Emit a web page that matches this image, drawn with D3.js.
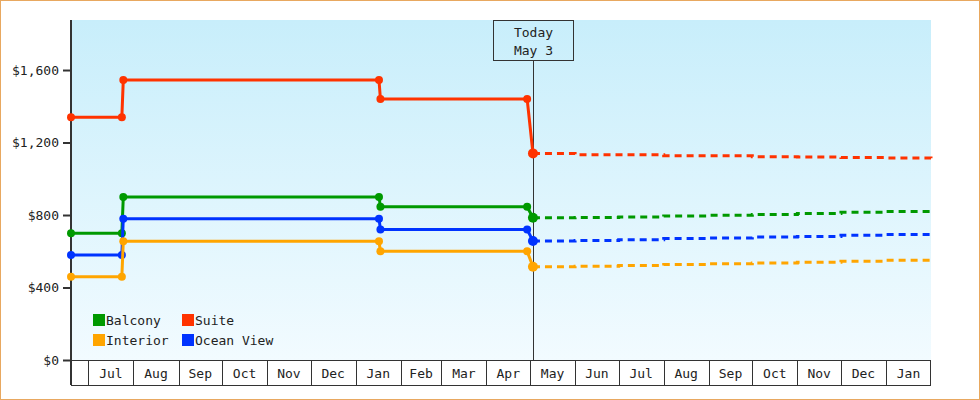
<!DOCTYPE html>
<html><head><meta charset="utf-8">
<script src="https://cdn.jsdelivr.net/npm/d3@7"></script>
<style>body{margin:0;background:#fff}svg{display:block}text{font-family:"DejaVu Sans Mono",monospace;font-size:13px;fill:#222}</style>
</head><body><svg id="c" width="980" height="400"></svg>
<script>
const seriesNames = ["Balcony","Suite","Interior","Ocean View"];
const colors = ["#009900","#ff3300","#ffa500","#0033ff"];
const histDates = ["2022-06-19","2022-07-24","2022-07-25","2023-01-17","2023-01-18","2023-04-29","2023-05-03"];
const balconyHist = [700,700,900,900,845,845,785];
const suiteHist = [1340,1340,1545,1545,1440,1440,1140];
const interiorHist = [460,460,655,655,600,600,515];
const oceanHist = [580,580,780,780,720,720,657];
const fcDates = ["2023-05-03","2023-06-01","2023-07-01","2023-08-01","2023-09-01","2023-10-01","2023-11-01","2023-12-01","2024-01-01","2024-02-01"];
const balconyFc = [785,786,789,795,798,803,808,815,820,822];
const suiteFc = [1140,1132,1132,1127,1127,1122,1120,1117,1115,1113];
const interiorFc = [515,517,521,527,531,535,539,545,550,552];
const oceanFc = [657,660,664,670,673,678,682,688,692,693];
const yTicks = [0,400,800,1200,1600];
const todayLabel = ["Today","May 3"];
const todayDate = "2023-05-03";

const hist=[balconyHist,suiteHist,interiorHist,oceanHist];
const fc=[balconyFc,suiteFc,interiorFc,oceanFc];
const P=d3.timeParse("%Y-%m-%d");
const svg=d3.select("#c");
const L=71,R=931,T=20,B=360;
const x=d3.scaleTime().domain([P("2022-06-19"),P("2024-02-01")]).range([L,R]);
const y=d3.scaleLinear().domain([0,1876]).range([B,T]);
const defs=svg.append("defs");
const g=defs.append("linearGradient").attr("id","bg").attr("x1",0).attr("y1",0).attr("x2",0).attr("y2",1);
g.append("stop").attr("offset","0").attr("stop-color","#c8eefb");
g.append("stop").attr("offset","1").attr("stop-color","#f2fbff");
svg.append("rect").attr("x",0.5).attr("y",0.5).attr("width",979).attr("height",399).attr("fill","#fff").attr("stroke","#e8a860");
svg.append("rect").attr("x",L).attr("y",T).attr("width",R-L).attr("height",B-T).attr("fill","url(#bg)");
// y axis
const ya=svg.append("g").attr("transform",`translate(${L},0)`).call(d3.axisLeft(y).tickValues(yTicks).tickSize(8).tickFormat(d=>"$"+d3.format(",")(d)));
ya.select(".domain").remove();
ya.selectAll("line").attr("stroke","#333").attr("stroke-width",2);
ya.selectAll("text").attr("font-family","DejaVu Sans Mono").attr("font-size",13).attr("fill","#333").attr("dx",-1);
svg.append("line").attr("x1",L).attr("x2",L).attr("y1",T).attr("y2",B+25).attr("stroke","#333").attr("stroke-width",2);
// x axis month boxes
const months=d3.timeMonth.range(P("2022-07-01"),P("2024-02-01"));
const xa=svg.append("g");
xa.append("line").attr("x1",L).attr("x2",R).attr("y1",B+0.5).attr("y2",B+0.5).attr("stroke","#333");
xa.append("line").attr("x1",L).attr("x2",R).attr("y1",B+25.5).attr("y2",B+25.5).attr("stroke","#333");
xa.append("line").attr("x1",R-0.5).attr("x2",R-0.5).attr("y1",B).attr("y2",B+25).attr("stroke","#333");
months.forEach(m=>{
  const x0=Math.round(x(m))+0.5;
  xa.append("line").attr("x1",x0).attr("x2",x0).attr("y1",B).attr("y2",B+25).attr("stroke","#333");
  const x1=x(d3.timeMonth.offset(m,1));
  xa.append("text").attr("x",(x(m)+x1)/2).attr("y",B+18).attr("text-anchor","middle").text(d3.timeFormat("%b")(m));
});
// today
const tx=Math.round(x(P(todayDate)))+0.5;
svg.append("line").attr("x1",tx).attr("x2",tx).attr("y1",60).attr("y2",B).attr("stroke","#333");
svg.append("rect").attr("x",tx-40).attr("y",20.5).attr("width",80).attr("height",40).attr("fill","none").attr("stroke","#333");
todayLabel.forEach((t,i)=>svg.append("text").attr("x",tx).attr("y",37+i*18).attr("text-anchor","middle").text(t));
// lines
const line=d3.line().x(d=>x(d[0])).y(d=>y(d[1]));
const fline=d3.line().x(d=>x(d[0])).y(d=>y(d[1])).curve(d3.curveStepAfter);
[1,0,3,2].forEach(i=>{
  const h=histDates.map((d,j)=>[P(d),hist[i][j]]);
  const f=fcDates.map((d,j)=>[P(d),fc[i][j]]);
  svg.append("path").attr("d",fline(f)).attr("fill","none").attr("stroke",colors[i]).attr("stroke-width",3).attr("stroke-dasharray","7,5");
  svg.append("path").attr("d",line(h)).attr("fill","none").attr("stroke",colors[i]).attr("stroke-width",3);
  svg.selectAll(null).data(h).enter().append("circle").attr("cx",d=>x(d[0])).attr("cy",d=>y(d[1]))
    .attr("r",(d,j)=>j===h.length-1?5:4).attr("fill",colors[i]);
});
// legend
const lg=[[0,93,314],[1,182,314],[2,93,334],[3,182,334]];
lg.forEach(([i,lx,ly])=>{
  svg.append("rect").attr("x",lx).attr("y",ly).attr("width",12).attr("height",12).attr("fill",colors[i]);
  svg.append("text").attr("x",lx+13).attr("y",ly+11).attr("fill","#333").text(seriesNames[i]);
});
</script></body></html>
